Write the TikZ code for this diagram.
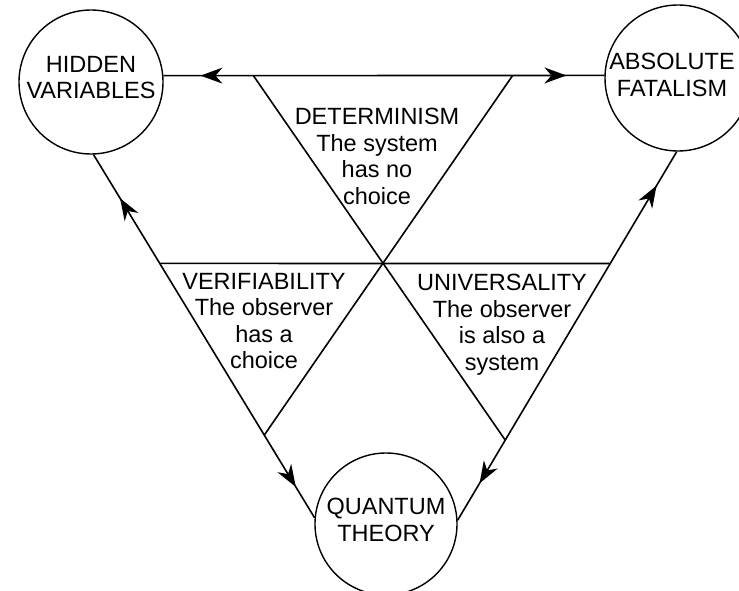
\documentclass[tikz,border=0pt]{standalone}
\usepackage{fontspec}
\setmainfont{Liberation Sans}
\usetikzlibrary{arrows.meta,decorations.markings}
\begin{document}
\begin{tikzpicture}[x=1pt,y=-1pt,
  every node/.style={font=\fontsize{23.5}{26.5}\selectfont},
  state/.style={draw,circle,line width=1.4pt,inner sep=0pt,minimum size=#1,align=center},
  txt/.style={align=center,inner sep=0pt,anchor=north},
  conn/.style={line width=1.6pt},
  twoarrows/.style 2 args={postaction={decorate},decoration={markings,
    mark=at position #1 with {\arrowreversed{Stealth[length=22pt,width=16pt,inset=7pt]}},
    mark=at position #2 with {\arrow{Stealth[length=22pt,width=16pt,inset=7pt]}}}}
]
\clip (0,0) rectangle (739,591);
\fill[white] (0,0) rectangle (739,591);

% circles
\node[state=144pt] (hid) at (91,82) {HIDDEN\\VARIABLES\rule[-9pt]{0pt}{9pt}};
\node[state=146pt] (abs) at (678,78) {ABSOLUTE\hspace*{12pt}\\FATALISM\hspace*{12pt}\rule[-6pt]{0pt}{6pt}};
\node[state=142pt] (qt) at (386,524) {QUANTUM\\THEORY\rule[-8pt]{0pt}{8pt}};

% connectors
\draw[conn,twoarrows={0.084}{0.914}] (hid.5) -- coordinate[pos=0.204] (t1) coordinate[pos=0.792] (t2) (abs.178);
\draw[conn,twoarrows={0.12}{0.915}] (hid.272) -- coordinate[pos=0.2996] (m1) coordinate[pos=0.7724] (b1) (qt.175);
\draw[conn,twoarrows={0.092}{0.90}] (abs.269) -- coordinate[pos=0.3033] (m2) coordinate[pos=0.7826] (b2) (qt.3);

% inner lines
\draw[conn] (m1) -- (m2);
\draw[conn] (t1) -- (b2);
\draw[conn] (t2) -- (b1);

% labels
\node[txt] (det) at (377,108) {DETERMINISM\\The system\\has no\\choice};
\node[txt] (ver) at (264,273) {VERIFIABILITY\\The observer\\has a\\choice};
\node[txt] (uni) at (502,274) {UNIVERSALITY\\The observer\\is also a\\system};
\end{tikzpicture}
\end{document}
